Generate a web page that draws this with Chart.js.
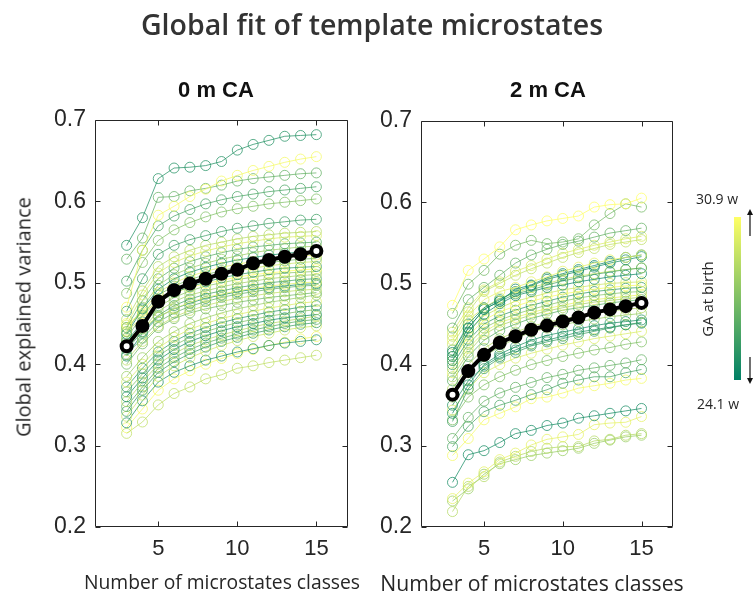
<!DOCTYPE html>
<html>
<head>
<meta charset="utf-8">
<title>Global fit of template microstates</title>
<script src="https://cdn.jsdelivr.net/npm/chart.js@4.4.1/dist/chart.umd.min.js"></script>
<style>
  body { margin: 0; background: #fff; }
  #wrap { position: relative; width: 756px; height: 595px; overflow: hidden;
          font-family: "Liberation Sans", Arial, sans-serif; color: #262626; }
  #wrap canvas { position: absolute; left: 0; top: 0; }
  .lbl { position: absolute; white-space: nowrap; transform: translate(-50%, -50%); }
  .title { font-family: "Open Sans", sans-serif; font-weight: 600; font-size: 28.5px; color: #333; }
  .panel { font-weight: bold; font-size: 22px; color: #111; }
  .axis { font-family: "Open Sans", sans-serif; color: #262626; }
  .cb { font-family: "Open Sans", sans-serif; font-size: 14px; color: #262626; }
  #bar { position: absolute; left: 734px; top: 217px; width: 7px; height: 163px;
         background: linear-gradient(to top, rgb(0,128,102), rgb(255,255,102)); }
</style>
</head>
<body>
<div id="wrap">
  <canvas id="leftChart" width="756" height="595"></canvas>
  <canvas id="rightChart" width="756" height="595"></canvas>

  <div class="lbl title" style="left:372px; top:24px;">Global fit of template microstates</div>
  <div class="lbl panel" style="left:216px; top:90px;">0 m CA</div>
  <div class="lbl panel" style="left:548px; top:90px;">2 m CA</div>
  <div class="lbl axis" style="left:222px; top:581px; font-size:19.3px;">Number of microstates classes</div>
  <div class="lbl axis" style="left:532px; top:582px; font-size:21.2px;">Number of microstates classes</div>
  <div class="lbl axis" style="left:23px; top:317px; font-size:20px; transform:translate(-50%,-50%) rotate(-90deg);">Global explained variance</div>

  <!-- GA colour bar -->
  <div id="bar"></div>
  <div class="lbl cb" style="left:717px; top:198px;">30.9 w</div>
  <div class="lbl cb" style="left:718px; top:403px;">24.1 w</div>
  <div class="lbl cb" style="left:707px; top:299px; font-size:15px; transform:translate(-50%,-50%) rotate(-90deg);">GA at birth</div>
  <svg style="position:absolute; left:744px; top:208px;" width="12" height="180">
    <line x1="6" y1="4" x2="6" y2="28" stroke="#111" stroke-width="1.2"/>
    <polygon points="3,7 9,7 6,1" fill="#111"/>
    <line x1="6" y1="149" x2="6" y2="173" stroke="#111" stroke-width="1.2"/>
    <polygon points="3,170 9,170 6,176" fill="#111"/>
  </svg>
</div>

<script>
// number of microstate classes fitted
const nClasses = [3, 4, 5, 6, 7, 8, 9, 10, 11, 12, 13, 14, 15];
const xTicks = [5, 10, 15];
const yTicks = [0.2, 0.3, 0.4, 0.5, 0.6, 0.7];
const gaMin = 24.1;
const gaMax = 30.9;

// 0 m CA: explained variance per subject, and gestational age at birth (weeks)
const leftSubjects = [
  [.546, .580, .628, .641, .642, .644, .649, .663, .670, .675, .680, .681, .682],
  [.470, .540, .583, .594, .606, .615, .625, .632, .638, .643, .648, .652, .655],
  [.529, .555, .605, .606, .613, .616, .620, .625, .628, .630, .632, .634, .635],
  [.502, .540, .570, .582, .590, .597, .602, .606, .609, .612, .614, .616, .618],
  [.487, .525, .552, .565, .574, .581, .587, .591, .594, .597, .599, .601, .603],
  [.465, .505, .535, .546, .553, .558, .563, .567, .570, .573, .575, .577, .578],
  [.455, .490, .520, .532, .540, .546, .550, .554, .557, .559, .561, .562, .563],
  [.448, .485, .512, .525, .533, .539, .544, .548, .551, .554, .556, .557, .558],
  [.445, .478, .505, .518, .526, .532, .537, .541, .544, .546, .548, .549, .550],
  [.440, .470, .497, .510, .518, .524, .529, .533, .537, .540, .542, .544, .545],
  [.437, .468, .492, .505, .513, .519, .524, .528, .531, .534, .536, .538, .539],
  [.445, .465, .488, .500, .508, .514, .519, .523, .526, .529, .531, .533, .534],
  [.432, .460, .485, .496, .504, .510, .515, .519, .522, .525, .527, .529, .530],
  [.440, .458, .480, .492, .500, .506, .511, .515, .518, .521, .523, .525, .526],
  [.428, .452, .475, .488, .495, .501, .506, .510, .513, .516, .518, .519, .520],
  [.450, .462, .478, .488, .494, .499, .503, .507, .510, .512, .514, .516, .517],
  [.425, .448, .470, .482, .490, .496, .500, .504, .507, .510, .512, .513, .514],
  [.420, .443, .465, .477, .485, .490, .495, .499, .502, .505, .507, .509, .510],
  [.418, .440, .460, .472, .480, .486, .490, .494, .497, .500, .502, .504, .505],
  [.430, .445, .458, .468, .476, .482, .486, .490, .493, .496, .498, .500, .501],
  [.412, .432, .452, .463, .471, .477, .482, .486, .489, .492, .494, .496, .497],
  [.405, .428, .447, .458, .466, .472, .477, .481, .484, .487, .489, .491, .492],
  [.400, .425, .445, .456, .463, .468, .472, .476, .479, .482, .484, .486, .488],
  [.410, .438, .458, .468, .475, .481, .485, .489, .492, .494, .496, .498, .499],
  [.385, .408, .428, .440, .450, .457, .463, .468, .472, .476, .479, .482, .485],
  [.378, .400, .420, .433, .443, .450, .456, .461, .465, .469, .472, .475, .477],
  [.372, .395, .415, .428, .438, .445, .451, .456, .460, .464, .467, .470, .472],
  [.366, .388, .410, .423, .433, .440, .446, .451, .455, .459, .462, .465, .467],
  [.360, .383, .405, .418, .428, .435, .441, .446, .450, .454, .457, .459, .461],
  [.354, .378, .400, .413, .423, .430, .436, .441, .446, .450, .453, .456, .459],
  [.348, .372, .395, .408, .418, .426, .432, .437, .442, .446, .450, .453, .455],
  [.342, .368, .390, .403, .413, .421, .428, .433, .438, .442, .446, .449, .451],
  [.336, .362, .385, .398, .408, .416, .423, .429, .434, .438, .442, .445, .447],
  [.328, .355, .378, .390, .398, .405, .410, .415, .419, .423, .426, .428, .430],
  [.315, .329, .350, .364, .372, .382, .387, .395, .398, .402, .405, .408, .411],
  [.322, .345, .368, .382, .392, .400, .407, .413, .418, .423, .427, .431, .434]
];
const leftGA = [25.1, 30.6, 26.8, 26.1, 27.5, 25.8, 28.9, 29.9, 26.5, 28.2, 24.8, 30.2,
                27.2, 29.5, 25.5, 30.9, 27.8, 28.5, 26.1, 30.2, 26.8, 29.2, 27.2, 24.4,
                28.2, 29.9, 25.5, 27.5, 24.8, 28.9, 26.5, 25.8, 29.5, 25.1, 29.2, 30.6];
const leftMean = [.422, .447, .477, .491, .499, .505, .511, .516, .524, .528, .532, .535, .539];

// 2 m CA
const rightSubjects = [
  [.473, .516, .530, .545, .566, .572, .577, .580, .583, .594, .597, .598, .605],
  [.463, .499, .516, .536, .547, .553, .549, .551, .555, .572, .586, .598, .594],
  [.445, .480, .495, .510, .525, .535, .542, .548, .552, .557, .562, .565, .568],
  [.440, .470, .492, .502, .515, .522, .530, .537, .542, .547, .551, .555, .558],
  [.435, .465, .490, .500, .510, .518, .525, .532, .538, .543, .548, .551, .554],
  [.430, .460, .480, .490, .495, .502, .508, .515, .520, .525, .529, .532, .535],
  [.410, .445, .468, .478, .493, .498, .507, .512, .517, .522, .527, .532, .535],
  [.415, .450, .470, .480, .490, .497, .505, .510, .515, .520, .525, .529, .533],
  [.418, .445, .468, .478, .487, .492, .498, .503, .507, .511, .514, .517, .519],
  [.425, .455, .470, .482, .488, .495, .500, .505, .509, .512, .515, .517, .519],
  [.405, .440, .462, .475, .485, .490, .495, .498, .502, .505, .508, .510, .512],
  [.410, .440, .460, .470, .478, .483, .488, .492, .495, .498, .500, .501, .502],
  [.405, .435, .455, .465, .472, .478, .483, .487, .490, .493, .495, .497, .498],
  [.400, .430, .450, .460, .467, .473, .478, .483, .487, .490, .492, .494, .495],
  [.395, .425, .445, .455, .462, .468, .473, .478, .482, .485, .487, .489, .490],
  [.390, .420, .440, .452, .458, .464, .469, .473, .477, .480, .482, .484, .486],
  [.385, .415, .437, .448, .455, .461, .466, .470, .474, .477, .479, .481, .483],
  [.380, .410, .430, .442, .450, .457, .462, .467, .470, .473, .476, .478, .480],
  [.370, .400, .420, .432, .440, .447, .452, .456, .460, .463, .466, .468, .470],
  [.360, .390, .410, .422, .432, .440, .445, .449, .453, .456, .459, .461, .463],
  [.340, .375, .400, .413, .422, .430, .436, .440, .444, .448, .451, .453, .455],
  [.330, .370, .395, .408, .415, .423, .428, .432, .437, .441, .445, .449, .452],
  [.350, .380, .398, .410, .418, .425, .430, .435, .440, .443, .446, .449, .451],
  [.344, .370, .390, .400, .408, .414, .419, .424, .428, .432, .435, .438, .441],
  [.332, .360, .375, .385, .393, .400, .405, .410, .414, .418, .421, .425, .428],
  [.309, .335, .355, .365, .372, .378, .384, .388, .393, .396, .399, .402, .406],
  [.299, .324, .342, .350, .356, .363, .369, .377, .381, .385, .385, .390, .394],
  [.288, .309, .332, .340, .348, .358, .360, .365, .371, .374, .377, .381, .383],
  [.255, .289, .294, .304, .315, .319, .325, .328, .334, .337, .340, .343, .346],
  [.235, .254, .268, .283, .291, .301, .308, .311, .314, .326, .328, .329, .336],
  [.219, .250, .262, .280, .287, .293, .297, .299, .299, .306, .308, .313, .315],
  [.232, .247, .265, .278, .283, .288, .291, .294, .297, .303, .307, .311, .313]
];
const rightGA = [30.9, 27.2, 26.8, 29.9, 29.2, 30.2, 24.4, 24.8, 26.1, 29.5, 24.6, 29.5,
                 30.6, 25.5, 27.8, 30.2, 28.5, 26.5, 28.9, 28.2, 25.0, 25.8, 25.1, 29.9,
                 27.5, 26.8, 26.1, 30.6, 24.8, 30.2, 28.9, 28.2];
const rightMean = [.363, .392, .412, .427, .435, .443, .448, .453, .458, .464, .468, .472, .476];

const fontFamily = '"Liberation Sans", Arial, sans-serif';
const inkColour = '#262626';

// MATLAB "summer" style map: dark green at the youngest GA, yellow at the oldest
function gaColour(ga, alpha) {
    const t = Math.min(1, Math.max(0, (ga - gaMin) / (gaMax - gaMin)));
    return `rgba(${Math.round(255 * t)}, ${Math.round(128 + 127 * t)}, 102, ${alpha})`;
}

function subjectSets(rows, ages) {
    return rows.map((vals, i) => ({
        data: vals.map((v, j) => ({ x: nClasses[j], y: v })),
        borderColor: gaColour(ages[i], 0.75),
        borderWidth: 1,
        pointRadius: 5,
        pointBorderWidth: 1,
        pointBorderColor: gaColour(ages[i], 0.75),
        pointBackgroundColor: 'rgba(0,0,0,0)',
        tension: 0
    }));
}

// group mean: filled markers, end points left hollow
function meanSet(vals) {
    return {
        data: vals.map((v, j) => ({ x: nClasses[j], y: v })),
        borderColor: '#000',
        borderWidth: 4,
        pointRadius: 5,
        pointBorderWidth: 4,
        pointBorderColor: '#000',
        pointBackgroundColor: vals.map((v, j) => (j === 0 || j === vals.length - 1) ? '#fff' : '#000'),
        tension: 0,
        order: -1
    };
}

// axes box with MATLAB-like inward ticks on all four sides
const boxTicks = {
    id: 'boxTicks',
    afterDraw(chart) {
        const { ctx, chartArea: a, scales: { x, y } } = chart;
        const l = Math.round(a.left) + 0.5, r = Math.round(a.right) - 0.5;
        const t = Math.round(a.top) + 0.5, b = Math.round(a.bottom) - 0.5;
        ctx.save();
        ctx.strokeStyle = inkColour;
        ctx.lineWidth = 1;
        ctx.beginPath();
        ctx.rect(l, t, r - l, b - t);
        xTicks.forEach(v => {
            const px = Math.round(x.getPixelForValue(v)) + 0.5;
            ctx.moveTo(px, b); ctx.lineTo(px, b - 5);
            ctx.moveTo(px, t); ctx.lineTo(px, t + 5);
        });
        yTicks.forEach(v => {
            const py = Math.round(y.getPixelForValue(v)) + 0.5;
            ctx.moveTo(l, py); ctx.lineTo(l + 5, py);
            ctx.moveTo(r, py); ctx.lineTo(r - 5, py);
        });
        ctx.stroke();
        ctx.restore();
    }
};

function makePanel(canvasId, subjects, ages, mean, box, tickSize) {
    return new Chart(document.getElementById(canvasId), {
        type: 'line',
        data: { datasets: [meanSet(mean)].concat(subjectSets(subjects, ages)) },
        options: {
            responsive: false,
            animation: false,
            devicePixelRatio: 1,
            layout: { padding: { left: box.left - 95, right: 756 - box.right, top: box.top, bottom: 0 } },
            plugins: { legend: { display: false }, tooltip: { enabled: false } },
            scales: {
                x: {
                    type: 'linear',
                    min: 1,
                    max: 17,
                    grid: { display: false, drawTicks: false },
                    border: { display: false },
                    afterBuildTicks: s => { s.ticks = xTicks.map(v => ({ value: v })); },
                    afterFit: s => { s.height = 595 - box.bottom; },
                    ticks: { color: inkColour, font: { family: fontFamily, size: tickSize - 1 }, padding: 9,
                             maxRotation: 0, autoSkip: false }
                },
                y: {
                    type: 'linear',
                    min: 0.2,
                    max: 0.7,
                    grid: { display: false, drawTicks: false },
                    border: { display: false },
                    afterBuildTicks: s => { s.ticks = yTicks.map(v => ({ value: v })); },
                    afterFit: s => { s.width = 95; },
                    ticks: { color: inkColour, font: { family: fontFamily, size: tickSize }, padding: 9,
                             callback: v => v.toFixed(1) }
                }
            }
        },
        plugins: [boxTicks]
    });
}

makePanel('leftChart', leftSubjects, leftGA, leftMean, { left: 95, right: 348, top: 120, bottom: 527 }, 23);
makePanel('rightChart', rightSubjects, rightGA, rightMean, { left: 421, right: 673, top: 121, bottom: 527 }, 23);
</script>
</body>
</html>
